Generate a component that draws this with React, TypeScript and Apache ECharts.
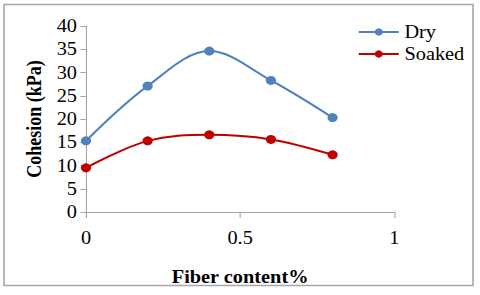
import React, { useEffect, useRef } from "react";
import * as echarts from "echarts";

const fiberContent = [0, 0.2, 0.4, 0.6, 0.8];
const dryValues = [15.3, 27.1, 34.6, 28.3, 20.3];
const soakedValues = [9.5, 15.3, 16.6, 15.6, 12.3];
const seriesNames = ["Dry", "Soaked"];

const STRETCH = 1.13;
const W = 480 / STRETCH;

export default function App() {
  const ref = useRef<HTMLDivElement>(null);
  useEffect(() => {
    const chart = echarts.init(ref.current!, null, { renderer: "svg" });
    const font = "Liberation Serif";
    const mk = (vals: number[]) => fiberContent.map((x, i) => [x, vals[i]]);
    chart.setOption({
      animation: false,
      textStyle: { fontFamily: font },
      graphic: [
        {
          type: "rect",
          shape: { x: 4 / STRETCH, y: 4.5, width: 469 / STRETCH, height: 281 },
          style: { fill: "none", stroke: "#a6a6a6", lineWidth: 1.4 },
          silent: true,
        },
      ],
      grid: { left: 86 / STRETCH, right: 86 / STRETCH, top: 26, bottom: 83 },
      legend: {
        left: 352 / STRETCH,
        top: 18,
        orient: "vertical",
        itemWidth: 40 / STRETCH,
        itemHeight: 9,
        itemGap: 4,
        textStyle: { fontFamily: font, fontSize: 18, color: "#000" },
        data: seriesNames,
      },
      xAxis: {
        type: "value",
        min: 0,
        max: 1,
        interval: 0.5,
        name: "Fiber content%",
        nameLocation: "middle",
        nameGap: 56,
        nameTextStyle: { fontFamily: font, fontSize: 18, fontWeight: "bold", color: "#000" },
        axisLine: { lineStyle: { color: "#a6a6a6", width: 1 } },
        axisTick: { show: true, length: 6, lineStyle: { color: "#a6a6a6" } },
        axisLabel: { fontFamily: font, fontSize: 18, color: "#000", margin: 17 },
        splitLine: { show: false },
      },
      yAxis: {
        type: "value",
        min: 0,
        max: 40,
        interval: 5,
        name: "Cohesion (kPa)",
        nameLocation: "middle",
        nameGap: 37,
        nameTextStyle: { fontFamily: font, fontSize: 18, fontWeight: "bold", color: "#000" },
        axisLine: { show: true, lineStyle: { color: "#a6a6a6", width: 1 } },
        axisTick: { show: true, length: 5, lineStyle: { color: "#a6a6a6" } },
        axisLabel: { fontFamily: font, fontSize: 18, color: "#000", margin: 8 },
        splitLine: { show: false },
      },
      series: [
        {
          name: seriesNames[0],
          type: "line",
          data: mk(dryValues),
          smooth: 0.35,
          symbol: "circle",
          symbolSize: 9,
          itemStyle: { color: "#4f81bd" },
          lineStyle: { color: "#4f81bd", width: 2 },
        },
        {
          name: seriesNames[1],
          type: "line",
          data: mk(soakedValues),
          smooth: 0.35,
          symbol: "circle",
          symbolSize: 9,
          itemStyle: { color: "#c00000" },
          lineStyle: { color: "#c00000", width: 2 },
        },
      ],
    });
    return () => chart.dispose();
  }, []);
  return (
    <div
      ref={ref}
      style={{
        width: W,
        height: 295,
        position: "absolute",
        left: 0,
        top: 0,
        transform: `scaleX(${STRETCH})`,
        transformOrigin: "0 0",
      }}
    />
  );
}
